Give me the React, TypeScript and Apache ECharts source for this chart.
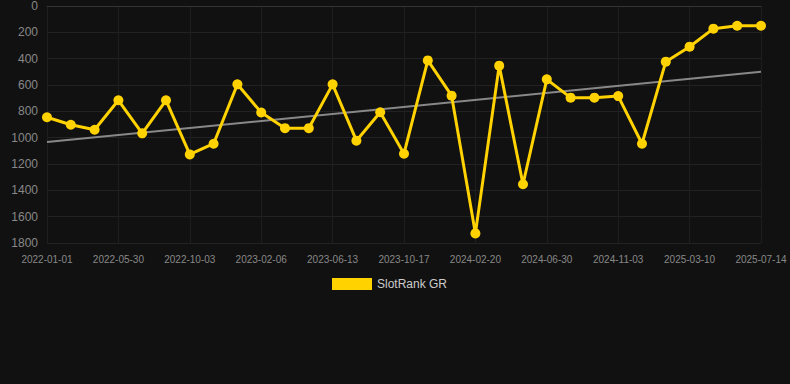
import React, { useEffect, useRef } from "react";
import * as echarts from "echarts";

const categories = [
  "2022-01-01", "2022-02-20", "2022-04-10", "2022-05-30", "2022-07-11", "2022-08-22",
  "2022-10-03", "2022-11-14", "2022-12-26", "2023-02-06", "2023-03-20", "2023-05-01",
  "2023-06-13", "2023-07-25", "2023-09-05", "2023-10-17", "2023-11-28", "2024-01-09",
  "2024-02-20", "2024-04-02", "2024-05-16", "2024-06-30", "2024-08-11", "2024-09-22",
  "2024-11-03", "2024-12-15", "2025-01-26", "2025-03-10", "2025-04-21", "2025-06-02",
  "2025-07-14",
];

const rankValues = [
  845, 902, 940, 716, 967, 716, 1127, 1046, 595, 809, 928, 928, 595, 1023, 807, 1122,
  413, 681, 1727, 453, 1354, 557, 696, 696, 684, 1046, 423, 309, 172, 150, 150,
];

const trendStart = 1033;
const trendEnd = 500;

const yTicks = { min: 0, max: 1800, interval: 200 };

export default function App() {
  const ref = useRef<HTMLDivElement>(null);

  useEffect(() => {
    if (!ref.current) return;
    const chart = echarts.init(ref.current, undefined, { renderer: "svg" });
    const trendData = categories.map((_, i) =>
      i === 0 ? trendStart : i === categories.length - 1 ? trendEnd : null
    );
    chart.setOption({
      animation: false,
      backgroundColor: "#111111",
      grid: { left: 47, right: 29, top: 6, bottom: 141, containLabel: false },
      legend: {
        data: ["SlotRank GR"],
        top: 273,
        left: 327,
        icon: "rect",
        itemWidth: 40,
        itemHeight: 12,
        itemGap: 10,
        textStyle: { color: "#cccccc", fontSize: 12, fontFamily: "Arial, Liberation Sans, sans-serif" },
      },
      xAxis: {
        type: "category",
        data: categories,
        boundaryGap: false,
        axisLine: { lineStyle: { color: "#333333" } },
        axisTick: { show: false },
        axisLabel: {
          interval: 2,
          color: "#888888",
          fontSize: 10,
          margin: 11,
          fontFamily: "Arial, Liberation Sans, sans-serif",
        },
        splitLine: { show: true, interval: 2, lineStyle: { color: "#1e1e1e" } },
      },
      yAxis: {
        type: "value",
        inverse: true,
        min: yTicks.min,
        max: yTicks.max,
        interval: yTicks.interval,
        axisLine: { show: false },
        axisTick: { show: false },
        axisLabel: {
          color: "#888888",
          fontSize: 12,
          margin: 9,
          formatter: (v: number) => String(v),
          fontFamily: "Arial, Liberation Sans, sans-serif",
        },
        splitLine: { lineStyle: { color: "#222222" } },
      },
      series: [
        {
          name: "SlotRank GR",
          type: "line",
          data: rankValues,
          symbol: "circle",
          symbolSize: 10,
          itemStyle: { color: "#FFD200" },
          lineStyle: { color: "#FFD200", width: 3 },
          z: 3,
        },
        {
          name: "Trend",
          type: "line",
          data: trendData,
          connectNulls: true,
          symbol: "none",
          lineStyle: { color: "#888888", width: 2 },
          itemStyle: { color: "#888888" },
          z: 2,
        },
      ],
    });
    return () => chart.dispose();
  }, []);

  return (
    <div
      ref={ref}
      style={{ position: "fixed", left: 0, top: 0, width: 790, height: 384 }}
    />
  );
}
